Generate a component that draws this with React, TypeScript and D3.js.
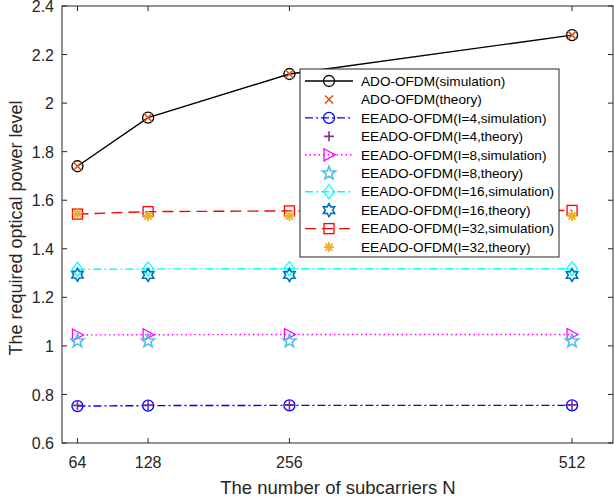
import React from "react";
import * as d3 from "d3";

const subcarriers = [64, 128, 256, 512];
const xTicks = [64, 128, 256, 512];
const yTicks = [0.6, 0.8, 1, 1.2, 1.4, 1.6, 1.8, 2, 2.2, 2.4];

const adoSim = [1.74, 1.94, 2.12, 2.28];
const adoTheory = [1.74, 1.94, 2.12, 2.28];
const l4Sim = [0.752, 0.754, 0.755, 0.755];
const l4Theory = [0.755, 0.756, 0.757, 0.757];
const l8Sim = [1.045, 1.046, 1.047, 1.047];
const l8Theory = [1.02, 1.02, 1.02, 1.02];
const l16Sim = [1.315, 1.317, 1.318, 1.318];
const l16Theory = [1.293, 1.292, 1.292, 1.292];
const l32Sim = [1.543, 1.553, 1.556, 1.558];
const l32Theory = [1.545, 1.535, 1.535, 1.535];

type Marker = "circle" | "x" | "plus" | "tri" | "star" | "hex" | "square" | "aster" | "diamond";
interface Series {
  name: string;
  values: number[];
  color: string;
  marker: Marker;
  line: boolean;
  dash?: string;
}

const series: Series[] = [
  { name: "ADO-OFDM(simulation)", values: adoSim, color: "#000000", marker: "circle", line: true },
  { name: "ADO-OFDM(theory)", values: adoTheory, color: "#D95319", marker: "x", line: false },
  { name: "EEADO-OFDM(I=4,simulation)", values: l4Sim, color: "#0000FF", marker: "circle", line: true, dash: "8,3,2,3" },
  { name: "EEADO-OFDM(I=4,theory)", values: l4Theory, color: "#7E2F8E", marker: "plus", line: false },
  { name: "EEADO-OFDM(I=8,simulation)", values: l8Sim, color: "#FF00FF", marker: "tri", line: true, dash: "1.5,3" },
  { name: "EEADO-OFDM(I=8,theory)", values: l8Theory, color: "#4DBEEE", marker: "star", line: false },
  { name: "EEADO-OFDM(I=16,simulation)", values: l16Sim, color: "#00FFFF", marker: "diamond", line: true, dash: "8,3,2,3" },
  { name: "EEADO-OFDM(I=16,theory)", values: l16Theory, color: "#0072BD", marker: "hex", line: false },
  { name: "EEADO-OFDM(I=32,simulation)", values: l32Sim, color: "#FF0000", marker: "square", line: true, dash: "11,6" },
  { name: "EEADO-OFDM(I=32,theory)", values: l32Theory, color: "#EDB120", marker: "aster", line: false },
];

const W = 614, H = 501;
const L = 62, R = 613, T = 6, B = 443;
const x = d3.scaleLinear().domain([50, 550]).range([L, L + 552]);
const y = d3.scaleLinear().domain([0.6, 2.4]).range([B, T]);

function MarkerShape({ m, cx, cy, color }: { m: string; cx: number; cy: number; color: string }) {
  const sw = 1.3;
  const common = { fill: "none", stroke: color, strokeWidth: sw };
  switch (m) {
    case "circle":
      return <circle cx={cx} cy={cy} r={5.5} {...common} />;
    case "x":
      return (
        <path d={`M${cx - 4},${cy - 4}L${cx + 4},${cy + 4}M${cx - 4},${cy + 4}L${cx + 4},${cy - 4}`} {...common} strokeWidth={1.6} />
      );
    case "plus":
      return <path d={`M${cx - 5},${cy}L${cx + 5},${cy}M${cx},${cy - 5}L${cx},${cy + 5}`} {...common} strokeWidth={1.6} />;
    case "tri":
      return <path d={`M${cx - 5},${cy - 6}L${cx + 6},${cy}L${cx - 5},${cy + 6}Z`} {...common} />;
    case "diamond":
      return <path d={`M${cx},${cy - 7}L${cx + 5.5},${cy}L${cx},${cy + 7}L${cx - 5.5},${cy}Z`} {...common} />;
    case "square":
      return <rect x={cx - 5} y={cy - 5} width={10} height={10} {...common} />;
    case "star": {
      const pts: string[] = [];
      for (let i = 0; i < 10; i++) {
        const a = -Math.PI / 2 + (i * Math.PI) / 5;
        const r = i % 2 === 0 ? 7 : 2.9;
        pts.push(`${cx + r * Math.cos(a)},${cy + r * Math.sin(a)}`);
      }
      return <polygon points={pts.join(" ")} {...common} strokeWidth={1.6} />;
    }
    case "hex": {
      const pts: string[] = [];
      for (let i = 0; i < 12; i++) {
        const a = -Math.PI / 2 + (i * Math.PI) / 6;
        const r = i % 2 === 0 ? 6.5 : 3.75;
        pts.push(`${cx + r * Math.cos(a)},${cy + r * Math.sin(a)}`);
      }
      return <polygon points={pts.join(" ")} {...common} strokeWidth={1.6} />;
    }
    case "aster": {
      const r = 5;
      const d = r * 0.707;
      return (
        <path
          d={`M${cx - r},${cy}L${cx + r},${cy}M${cx},${cy - r}L${cx},${cy + r}M${cx - d},${cy - d}L${cx + d},${cy + d}M${cx - d},${cy + d}L${cx + d},${cy - d}`}
          {...common}
          strokeWidth={1.8}
        />
      );
    }
  }
  return null;
}

export default function App() {
  const line = d3
    .line<number>()
    .x((_, i) => x(subcarriers[i]))
    .y((v) => y(v));
  const font = "Arial, 'Liberation Sans', Helvetica, sans-serif";
  const axisColor = "#262626";
  const legX = 300, legY = 69, legW = 259, legH = 188, rowH = 18.45;
  return (
    <svg width={W} height={H} style={{ position: "absolute", left: 0, top: 0 }} fontFamily={font}>
      <rect x={0} y={0} width={W} height={H} fill="#fff" />
      {yTicks.map((t) => (
        <g key={"y" + t}>
          <line x1={L} x2={L + 5} y1={y(t)} y2={y(t)} stroke={axisColor} />
          <line x1={R} x2={R - 5} y1={y(t)} y2={y(t)} stroke={axisColor} />
          <text x={L - 8} y={y(t)} dy="0.38em" textAnchor="end" fontSize={16} fill={axisColor}>
            {t}
          </text>
        </g>
      ))}
      {xTicks.map((t) => (
        <g key={"x" + t}>
          <line x1={x(t)} x2={x(t)} y1={B} y2={B - 5} stroke={axisColor} />
          <line x1={x(t)} x2={x(t)} y1={T} y2={T + 5} stroke={axisColor} />
          <text x={x(t)} y={B + 25} textAnchor="middle" fontSize={16} fill={axisColor}>
            {t}
          </text>
        </g>
      ))}
      {series.map((s) => (
        <g key={s.name}>
          {s.line && (
            <path d={line(s.values) || ""} fill="none" stroke={s.color} strokeWidth={1.4} strokeDasharray={s.dash} />
          )}
        </g>
      ))}
      {series.map((s) => (
        <g key={s.name + "m"}>
          {s.values.map((v, i) => (
            <MarkerShape key={i} m={s.marker} cx={x(subcarriers[i])} cy={y(v)} color={s.color} />
          ))}
        </g>
      ))}
      <rect x={L} y={T} width={R - L} height={B - T} fill="none" stroke={axisColor} strokeWidth={1} />
      <rect x={legX} y={legY} width={legW} height={legH} fill="#fff" stroke={axisColor} strokeWidth={1} />
      {series.map((s, i) => {
        const cy = legY + 12 + i * rowH;
        return (
          <g key={s.name + "l"}>
            {s.line && (
              <line x1={legX + 5} x2={legX + 53} y1={cy} y2={cy} stroke={s.color} strokeWidth={1.4} strokeDasharray={s.dash} />
            )}
            <MarkerShape m={s.marker} cx={legX + 29} cy={cy} color={s.color} />
            <text x={legX + 61} y={cy} dy="0.35em" fontSize={13.6} fill="#000">
              {s.name}
            </text>
          </g>
        );
      })}
      <text x={338} y={494} textAnchor="middle" fontSize={18.5} fill={axisColor}>
        The number of subcarriers N
      </text>
      <text
        transform={`translate(${22},${228}) rotate(-90)`}
        textAnchor="middle"
        fontSize={18}
        fill={axisColor}
      >
        The required optical power level
      </text>
    </svg>
  );
}
